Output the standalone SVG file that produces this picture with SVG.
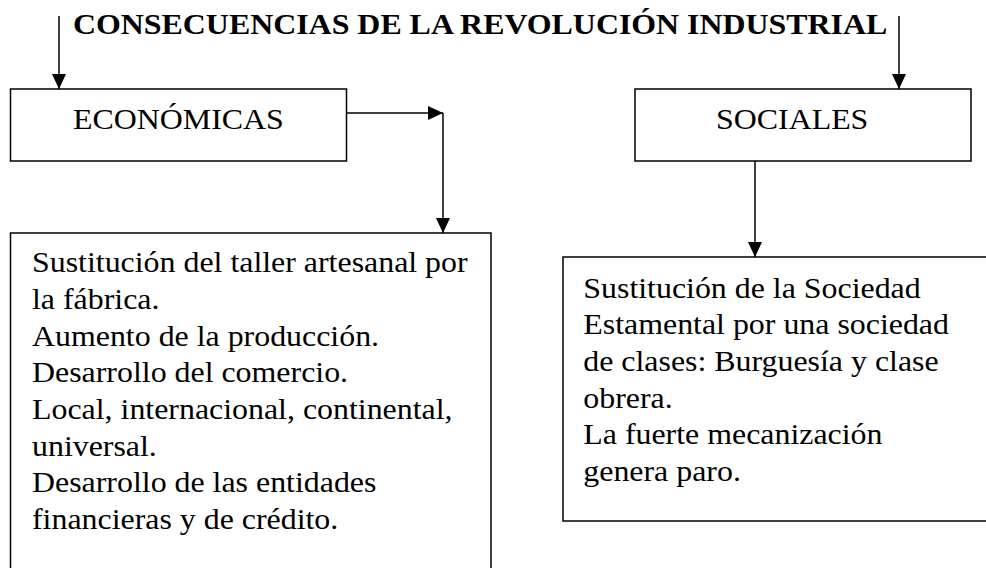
<svg xmlns="http://www.w3.org/2000/svg" width="986" height="568" viewBox="0 0 986 568">
  <style>
    .box { fill: #ffffff; stroke: #000000; stroke-width: 1.5; }
    .conn { fill: none; stroke: #000000; stroke-width: 1.5; }
    text { font-family: 'Liberation Serif', 'Times New Roman', serif; font-size: 29px; fill: #000000; }
    .title { font-weight: bold; }
  </style>
  <defs>
    <marker id="arrow" markerUnits="userSpaceOnUse" markerWidth="16" markerHeight="15" refX="15" refY="7" orient="auto">
      <path d="M0,0 L15,7 L0,14 Z" fill="#000000"/>
    </marker>
  </defs>
  <rect width="986" height="568" fill="#ffffff"/>

  <g id="title">
    <text class="title" transform="translate(73,34) scale(1.1,1)" x="0" y="0">CONSECUENCIAS DE LA REVOLUCIÓN INDUSTRIAL</text>
  </g>

  <g id="economicas">
    <rect class="box" x="10.5" y="89" width="336" height="72"/>
    <text transform="translate(73,129) scale(1.1,1)" x="0" y="0">ECONÓMICAS</text>
  </g>

  <g id="sociales">
    <rect class="box" x="635" y="89" width="336" height="72"/>
    <text transform="translate(716,129) scale(1.1,1)" x="0" y="0">SOCIALES</text>
  </g>

  <g id="economicas-detalle">
    <rect class="box" x="10.5" y="233" width="480.5" height="400"/>
    <text transform="translate(32,272.3) scale(1.1,1)" x="0" y="0"><tspan x="0" y="0">Sustitución del taller artesanal por</tspan><tspan x="0" dy="36.7">la fábrica.</tspan><tspan x="0" dy="36.7">Aumento de la producción.</tspan><tspan x="0" dy="36.7">Desarrollo del comercio.</tspan><tspan x="0" dy="36.7">Local, internacional, continental,</tspan><tspan x="0" dy="36.7">universal.</tspan><tspan x="0" dy="36.7">Desarrollo de las entidades</tspan><tspan x="0" dy="36.7">financieras y de crédito.</tspan></text>
  </g>

  <g id="sociales-detalle">
    <rect class="box" x="563" y="257" width="500" height="264"/>
    <text transform="translate(583.3,297.7) scale(1.1,1)" x="0" y="0"><tspan x="0" y="0">Sustitución de la Sociedad</tspan><tspan x="0" dy="36.7">Estamental por una sociedad</tspan><tspan x="0" dy="36.7">de clases: Burguesía y clase</tspan><tspan x="0" dy="36.7">obrera.</tspan><tspan x="0" dy="36.7">La fuerte mecanización</tspan><tspan x="0" dy="36.7">genera paro.</tspan></text>
  </g>

  <g id="connectors">
    <line class="conn" x1="59" y1="16" x2="59" y2="89" marker-end="url(#arrow)"/>
    <line class="conn" x1="899" y1="16" x2="899" y2="89" marker-end="url(#arrow)"/>
    <line class="conn" x1="347" y1="113" x2="443" y2="113" marker-end="url(#arrow)"/>
    <line class="conn" x1="443" y1="113" x2="443" y2="233" marker-end="url(#arrow)"/>
    <line class="conn" x1="755" y1="161" x2="755" y2="257" marker-end="url(#arrow)"/>
  </g>
</svg>
